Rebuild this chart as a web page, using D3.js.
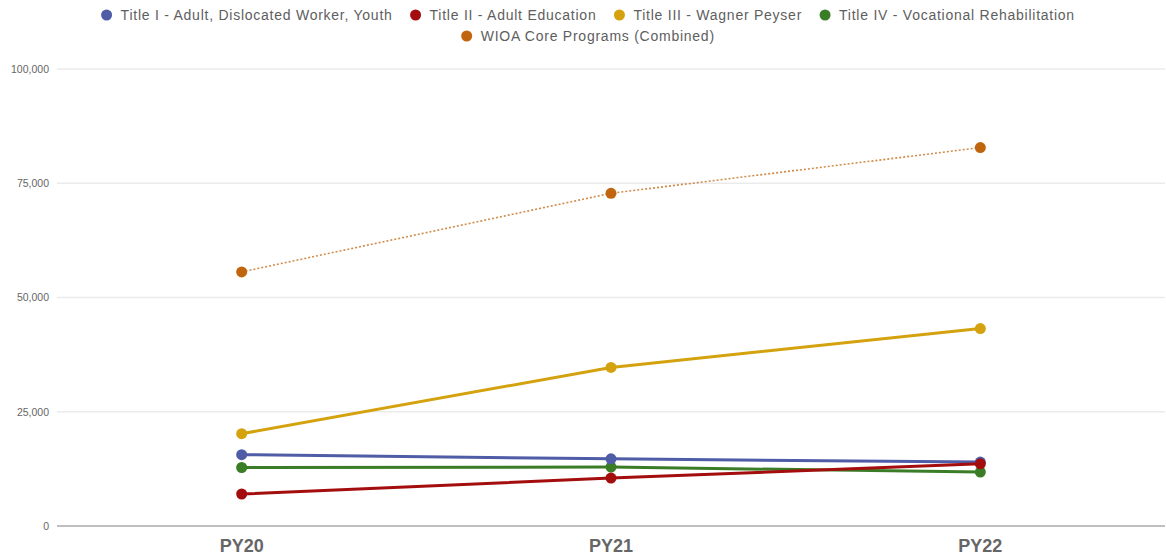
<!DOCTYPE html>
<html><head><meta charset="utf-8">
<script src="https://cdn.jsdelivr.net/npm/d3@7"></script>
<style>body{margin:0;background:#fff;font-family:Arial,"Liberation Sans",sans-serif;}</style>
</head><body><svg id="c" width="1166" height="560"></svg>
<script>
const categories = ["PY20","PY21","PY22"];
const seriesNames = ["Title I - Adult, Dislocated Worker, Youth","Title II - Adult Education","Title III - Wagner Peyser","Title IV - Vocational Rehabilitation","WIOA Core Programs (Combined)"];
const titleI = [15600, 14700, 14000];
const titleII = [7000, 10500, 13600];
const titleIII = [20200, 34700, 43200];
const titleIV = [12800, 12900, 11800];
const combined = [55600, 72800, 82800];
const yTicks = [0, 25000, 50000, 75000, 100000];
const colors = ["#4f5ca6","#a30d0d","#d4a20e","#3a7d26","#c0650e"];

const svg = d3.select("#c");
const m = {l:57, r:1, t:69, b:34};
const W = 1166, H = 560;
const x = d3.scaleBand().domain(categories).range([m.l, W - m.r]);
const y = d3.scaleLinear().domain([0, 100000]).range([H - m.b, m.t]);

// grid
svg.append("g").selectAll("line").data(yTicks.filter(d=>d>0)).join("line")
  .attr("x1", m.l).attr("x2", W - m.r).attr("y1", d=>y(d)).attr("y2", d=>y(d))
  .attr("stroke", "#ebebeb").attr("stroke-width", 1.5);
svg.append("line").attr("x1", m.l).attr("x2", W - m.r).attr("y1", y(0)).attr("y2", y(0))
  .attr("stroke", "#aaa").attr("stroke-width", 1.5);

const yAxis = svg.append("g").attr("transform", `translate(${m.l - 5},0)`)
  .call(d3.axisLeft(y).tickValues(yTicks).tickFormat(d3.format(",")).tickSize(0));
yAxis.select(".domain").remove();
yAxis.selectAll("text").attr("font-size", 10.5).attr("fill", "#666").attr("font-family", "Arial, 'Liberation Sans', sans-serif");

const xAxis = svg.append("g").attr("transform", `translate(0,${y(0)})`)
  .call(d3.axisBottom(x).tickSize(0).tickPadding(13));
xAxis.select(".domain").remove();
xAxis.selectAll("text").attr("font-size", 18).attr("font-weight", "bold").attr("fill", "#666")
  .attr("font-family", "Arial, 'Liberation Sans', sans-serif");

const allSeries = [titleI, titleII, titleIII, titleIV, combined];
const cx = d => x(d) + x.bandwidth()/2;
const line = d3.line().x((d,i)=>cx(categories[i])).y(d=>y(d));
const order = [4, 3, 2, 0, 1];
order.forEach(si => {
  const vals = allSeries[si];
  const dotted = si === 4;
  svg.append("path").datum(vals).attr("d", line).attr("fill", "none")
    .attr("stroke", colors[si])
    .attr("stroke-width", dotted ? 1.6 : 3)
    .attr("stroke-opacity", dotted ? 0.75 : 1)
    .attr("stroke-dasharray", dotted ? "2,2" : null);
  svg.append("g").selectAll("circle").data(vals).join("circle")
    .attr("cx", (d,i)=>cx(categories[i])).attr("cy", d=>y(d)).attr("r", 5.5)
    .attr("fill", colors[si]);
});

// legend
const rows = [[0,1,2,3],[4]];
const rowY = [15, 36];
const centerX = 588;
rows.forEach((row, ri) => {
  const g = svg.append("g");
  let xo = 0;
  row.forEach(si => {
    const it = g.append("g").attr("transform", `translate(${xo},0)`);
    it.append("circle").attr("cx", 0).attr("cy", 0).attr("r", 5.5).attr("fill", colors[si]);
    const t = it.append("text").attr("x", 14).attr("y", 5).attr("font-size", 14)
      .attr("letter-spacing", 0.75)
      .attr("fill", "#5e5e5e").attr("font-family", "Arial, 'Liberation Sans', sans-serif").text(seriesNames[si]);
    xo += 14 + t.node().getComputedTextLength() + 23;
  });
  const w = xo - 23 + 5.5;
  g.attr("transform", `translate(${centerX - w/2 + 5.5},${rowY[ri]})`);
});
</script></body></html>
